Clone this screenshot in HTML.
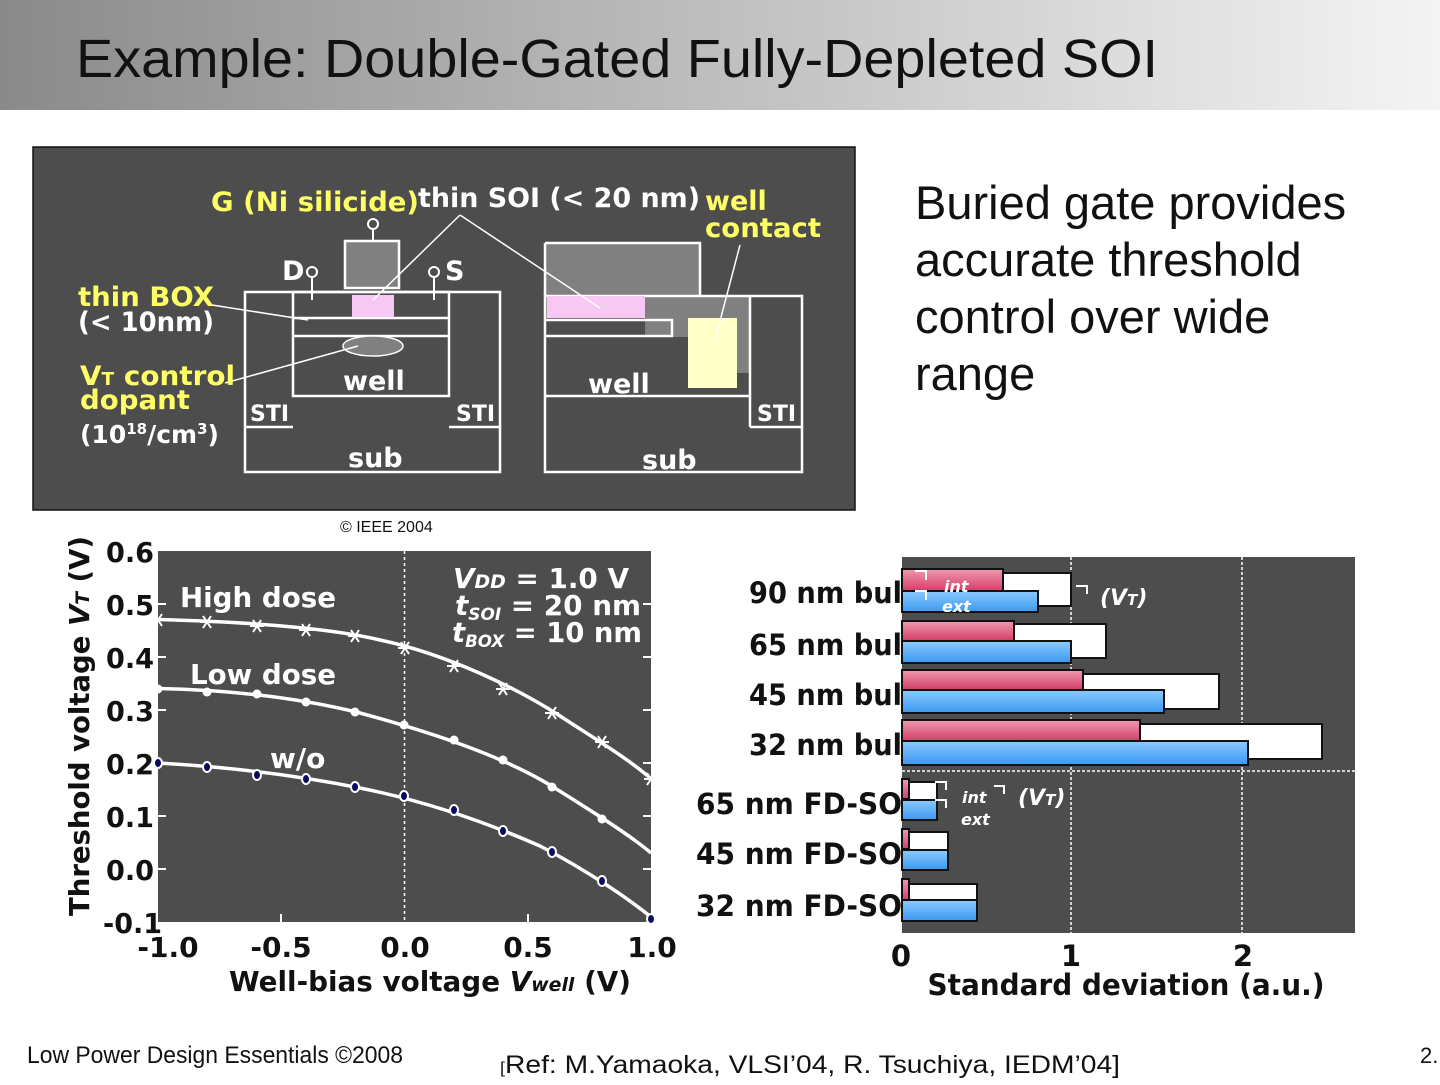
<!DOCTYPE html>
<html><head><meta charset="utf-8"><style>
body{margin:0;width:1440px;height:1080px;background:#fff;overflow:hidden;font-family:"Liberation Sans",sans-serif}
</style></head><body>
<svg width="1440" height="1080" xmlns="http://www.w3.org/2000/svg" font-family="DejaVu Sans, sans-serif">
<defs>
<linearGradient id="tb" x1="0" x2="1"><stop offset="0" stop-color="#8a8a8a"/><stop offset="1" stop-color="#f4f4f4"/></linearGradient>
<linearGradient id="pk" x1="0" y1="0" x2="0" y2="1"><stop offset="0" stop-color="#f09ab0"/><stop offset="1" stop-color="#d43d68"/></linearGradient>
<linearGradient id="bl" x1="0" y1="0" x2="0" y2="1"><stop offset="0" stop-color="#8ccaff"/><stop offset="1" stop-color="#3a98f0"/></linearGradient>
</defs>
<rect x="0" y="0" width="1440" height="110" fill="url(#tb)"/>
<text x="76" y="77" font-family="Liberation Sans" font-size="54" fill="#111" textLength="1082" lengthAdjust="spacingAndGlyphs">Example: Double-Gated Fully-Depleted SOI</text>

<!-- diagram -->
<rect x="33" y="147" width="822" height="363" fill="#4d4d4d" stroke="#111" stroke-width="1.5"/>
<g stroke="#fff" stroke-width="2.5" fill="none">
<rect x="245" y="292" width="255" height="180"/>
<rect x="293" y="292" width="156" height="104"/>
<line x1="245" y1="427" x2="293" y2="427"/><line x1="449" y1="427" x2="500" y2="427"/>
<line x1="293" y1="318" x2="449" y2="318"/><line x1="293" y1="336" x2="449" y2="336"/>
</g>
<rect x="345" y="241" width="54" height="47" fill="#808080" stroke="#fff" stroke-width="2.5"/>
<rect x="352" y="295" width="42" height="22" fill="#f8c8f4"/>
<ellipse cx="373" cy="346" rx="30" ry="10" fill="#808080" stroke="#fff" stroke-width="1.5"/>
<g stroke="#fff" stroke-width="2" fill="none">
<circle cx="373" cy="224" r="5"/><line x1="373" y1="229" x2="373" y2="241"/>
<circle cx="312" cy="272" r="5"/><line x1="312" y1="277" x2="312" y2="300"/>
<circle cx="434" cy="272" r="5"/><line x1="434" y1="277" x2="434" y2="300"/>
</g>
<polygon points="545,243 700,243 700,296 750,296 750,373 688,373 688,337 645,337 645,318 545,318" fill="#808080"/>
<g stroke="#fff" stroke-width="2.5" fill="none">
<rect x="545" y="296" width="257" height="176"/>
<polyline points="545,243 700,243 700,296"/>
<line x1="545" y1="243" x2="545" y2="296"/>
<line x1="750" y1="296" x2="750" y2="427"/><line x1="750" y1="427" x2="802" y2="427"/>
<line x1="545" y1="396" x2="750" y2="396"/>
<polyline points="545,320 672,320 672,336 545,336"/>
</g>
<rect x="547" y="296" width="98" height="22" fill="#f8c8f4"/>
<rect x="688" y="318" width="49" height="70" fill="#ffffc8"/>
<g stroke="#fff" stroke-width="1.5">
<line x1="460" y1="215" x2="373" y2="300"/><line x1="460" y1="215" x2="600" y2="308"/>
<line x1="212" y1="305" x2="308" y2="320"/><line x1="225" y1="383" x2="358" y2="346"/>
<line x1="740" y1="245" x2="715" y2="340"/>
</g>
<g font-weight="bold" font-size="27" fill="#ffff66">
<text x="211" y="211" textLength="208" lengthAdjust="spacingAndGlyphs">G (Ni silicide)</text>
<text x="705" y="210">well</text><text x="705" y="237" textLength="116" lengthAdjust="spacingAndGlyphs">contact</text>
<text x="78" y="306" textLength="136" lengthAdjust="spacingAndGlyphs">thin BOX</text>
<text x="80" y="385" textLength="155" lengthAdjust="spacingAndGlyphs">V<tspan font-size="18">T</tspan> control</text>
<text x="80" y="409" textLength="110" lengthAdjust="spacingAndGlyphs">dopant</text>
</g>
<g font-weight="bold" font-size="27" fill="#fff">
<text x="418" y="207" textLength="282" lengthAdjust="spacingAndGlyphs">thin SOI (&lt; 20 nm)</text>
<text x="78" y="331" textLength="136" lengthAdjust="spacingAndGlyphs">(&lt; 10nm)</text>
<text x="80" y="443" font-size="25">(10<tspan font-size="15" dy="-9">18</tspan><tspan dy="9">/cm</tspan><tspan font-size="15" dy="-9">3</tspan><tspan dy="9">)</tspan></text>
<text x="282" y="280">D</text><text x="445" y="280">S</text>
<text x="343" y="390">well</text><text x="588" y="393">well</text>
<text x="348" y="467">sub</text><text x="642" y="469">sub</text>
<text x="250" y="421" font-size="22">STI</text><text x="456" y="421" font-size="22">STI</text><text x="757" y="421" font-size="22">STI</text>
</g>
<text x="340" y="532" font-family="Liberation Sans" font-size="16" fill="#111">© IEEE 2004</text>

<g font-family="Liberation Sans" font-size="47" fill="#111">
<text x="915" y="219">Buried gate provides</text>
<text x="915" y="276">accurate threshold</text>
<text x="915" y="333">control over wide</text>
<text x="915" y="390">range</text>
</g>

<!-- left chart -->
<rect x="158" y="551" width="493" height="371" fill="#4d4d4d"/>
<line x1="404.5" y1="551" x2="404.5" y2="922" stroke="#fff" stroke-width="1.5" stroke-dasharray="3,3"/>
<g stroke="#fff" stroke-width="2">
<line x1="158" y1="604" x2="166" y2="604"/><line x1="158" y1="657" x2="166" y2="657"/><line x1="158" y1="710" x2="166" y2="710"/><line x1="158" y1="763" x2="166" y2="763"/><line x1="158" y1="816" x2="166" y2="816"/><line x1="158" y1="869" x2="166" y2="869"/>
<line x1="651" y1="604" x2="643" y2="604"/><line x1="651" y1="657" x2="643" y2="657"/><line x1="651" y1="710" x2="643" y2="710"/><line x1="651" y1="763" x2="643" y2="763"/><line x1="651" y1="816" x2="643" y2="816"/><line x1="651" y1="869" x2="643" y2="869"/>
<line x1="281" y1="922" x2="281" y2="914"/><line x1="528" y1="922" x2="528" y2="914"/>
</g>
<g fill="none" stroke="#fff" stroke-width="3.5">
<path d="M158,619.5 C250,622 330,628 380,640 C450,655 520,690 560,716 C600,742 630,760 651,778.9"/>
<path d="M158,688.5 C230,690 300,698 360,713 C430,732 500,755 550,785 C590,810 630,835 651,853"/>
<path d="M158,763 C230,767 300,776 360,788 C430,802 490,824 540,846 C590,872 630,900 651,917"/>
</g>
<g stroke="#fff" stroke-width="2" fill="none">
<path d="M151,620 h14 m-11,-6 l8,12 m-8,0 l8,-12"/>
<path d="M200,622 h14 m-11,-6 l8,12 m-8,0 l8,-12"/>
<path d="M250,626 h14 m-11,-6 l8,12 m-8,0 l8,-12"/>
<path d="M299,630 h14 m-11,-6 l8,12 m-8,0 l8,-12"/>
<path d="M348,636 h14 m-11,-6 l8,12 m-8,0 l8,-12"/>
<path d="M398,648 h14 m-11,-6 l8,12 m-8,0 l8,-12"/>
<path d="M447,666 h14 m-11,-6 l8,12 m-8,0 l8,-12"/>
<path d="M496,689 h14 m-11,-6 l8,12 m-8,0 l8,-12"/>
<path d="M545,713 h14 m-11,-6 l8,12 m-8,0 l8,-12"/>
<path d="M595,742 h14 m-11,-6 l8,12 m-8,0 l8,-12"/>
<path d="M644,779 h14 m-11,-6 l8,12 m-8,0 l8,-12"/>
</g>
<g fill="#fff"><circle cx="207" cy="692" r="4.5"/><circle cx="257" cy="694" r="4.5"/><circle cx="306" cy="702" r="4.5"/><circle cx="355" cy="712" r="4.5"/><circle cx="404" cy="725" r="4.5"/><circle cx="454" cy="740" r="4.5"/><circle cx="503" cy="760" r="4.5"/><circle cx="552" cy="787" r="4.5"/><circle cx="602" cy="819" r="4.5"/><circle cx="158" cy="689" r="4.5"/></g>
<g fill="#0a0a60" stroke="#fff" stroke-width="2">
<ellipse cx="158" cy="763" rx="4" ry="5"/><ellipse cx="207" cy="767" rx="4" ry="5"/><ellipse cx="257" cy="775" rx="4" ry="5"/><ellipse cx="306" cy="779" rx="4" ry="5"/><ellipse cx="355" cy="787" rx="4" ry="5"/><ellipse cx="404" cy="796" rx="4" ry="5"/><ellipse cx="454" cy="810" rx="4" ry="5"/><ellipse cx="503" cy="831" rx="4" ry="5"/><ellipse cx="552" cy="852" rx="4" ry="5"/><ellipse cx="602" cy="881" rx="4" ry="5"/><ellipse cx="651" cy="919" rx="4" ry="5"/>
</g>
<g font-weight="bold" font-size="28" fill="#fff">
<text x="180" y="607" textLength="156" lengthAdjust="spacingAndGlyphs">High dose</text><text x="190" y="684" textLength="146" lengthAdjust="spacingAndGlyphs">Low dose</text><text x="270" y="768">w/o</text>
<text x="453" y="588" font-style="italic" textLength="176" lengthAdjust="spacingAndGlyphs">V<tspan font-size="19">DD</tspan><tspan font-style="normal"> = 1.0 V</tspan></text>
<text x="455" y="615" font-style="italic" textLength="186" lengthAdjust="spacingAndGlyphs">t<tspan font-size="17" dy="5">SOI</tspan><tspan font-style="normal" dy="-5"> = 20 nm</tspan></text>
<text x="452" y="642" font-style="italic" textLength="190" lengthAdjust="spacingAndGlyphs">t<tspan font-size="17" dy="5">BOX</tspan><tspan font-style="normal" dy="-5"> = 10 nm</tspan></text>
</g>
<g font-weight="bold" font-size="28" fill="#111">
<text x="106" y="562" textLength="48" lengthAdjust="spacingAndGlyphs">0.6</text><text x="106" y="615" textLength="48" lengthAdjust="spacingAndGlyphs">0.5</text><text x="106" y="668" textLength="48" lengthAdjust="spacingAndGlyphs">0.4</text><text x="106" y="721" textLength="48" lengthAdjust="spacingAndGlyphs">0.3</text><text x="106" y="774" textLength="48" lengthAdjust="spacingAndGlyphs">0.2</text><text x="106" y="827" textLength="48" lengthAdjust="spacingAndGlyphs">0.1</text><text x="106" y="880" textLength="48" lengthAdjust="spacingAndGlyphs">0.0</text><text x="103" y="933" textLength="59" lengthAdjust="spacingAndGlyphs">-0.1</text>
</g>
<g font-weight="bold" font-size="28" fill="#111" text-anchor="middle">
<text x="168" y="957">-1.0</text><text x="281" y="957">-0.5</text><text x="405" y="957">0.0</text><text x="528" y="957">0.5</text><text x="652" y="957">1.0</text>
<text x="430" y="991" textLength="402" lengthAdjust="spacingAndGlyphs">Well-bias voltage <tspan font-style="italic">V<tspan font-size="19">well</tspan></tspan> (V)</text>
<text transform="translate(89,726) rotate(-90)" textLength="380" lengthAdjust="spacingAndGlyphs">Threshold voltage <tspan font-style="italic">V<tspan font-size="19">T</tspan></tspan> (V)</text>
</g>

<!-- right chart -->
<rect x="902" y="557" width="453" height="376" fill="#4d4d4d"/>
<g stroke="#fff" stroke-width="1.5" stroke-dasharray="3,2">
<line x1="1071" y1="557" x2="1071" y2="933"/><line x1="1242" y1="557" x2="1242" y2="933"/><line x1="902" y1="771" x2="1355" y2="771"/>
</g>
<g stroke="#111" stroke-width="2">
<rect x="902" y="573" width="169" height="33" fill="#fff"/>
<rect x="902" y="569" width="101" height="22" fill="url(#pk)"/><rect x="902" y="591" width="136" height="21" fill="url(#bl)"/>
<rect x="902" y="624" width="204" height="34" fill="#fff"/>
<rect x="902" y="621" width="112" height="20" fill="url(#pk)"/><rect x="902" y="641" width="169" height="22" fill="url(#bl)"/>
<rect x="902" y="674" width="317" height="35" fill="#fff"/>
<rect x="902" y="670" width="181" height="20" fill="url(#pk)"/><rect x="902" y="690" width="262" height="23" fill="url(#bl)"/>
<rect x="902" y="724" width="420" height="35" fill="#fff"/>
<rect x="902" y="720" width="238" height="21" fill="url(#pk)"/><rect x="902" y="741" width="346" height="24" fill="url(#bl)"/>
<rect x="902" y="782" width="35" height="18" fill="#fff"/>
<rect x="902" y="779" width="7" height="20" fill="url(#pk)"/><rect x="902" y="800" width="35" height="20" fill="url(#bl)"/>
<rect x="902" y="832" width="46" height="18" fill="#fff"/>
<rect x="902" y="829" width="7" height="20" fill="url(#pk)"/><rect x="902" y="850" width="46" height="20" fill="url(#bl)"/>
<rect x="902" y="884" width="75" height="16" fill="#fff"/>
<rect x="902" y="879" width="7" height="21" fill="url(#pk)"/><rect x="902" y="900" width="75" height="21" fill="url(#bl)"/>
</g>
<g stroke="#fff" stroke-width="2" fill="none">
<polyline points="915,571 926,571 926,580"/><polyline points="915,591 926,591 926,600"/><polyline points="1076,586 1087,586 1087,594"/>
<polyline points="935,782 946,782 946,790"/><polyline points="935,800 946,800 946,808"/><polyline points="994,786 1004,786 1004,794"/>
</g>
<g fill="#fff" font-weight="bold" font-style="italic" font-size="16">
<text x="944" y="592">int</text><text x="942" y="612">ext</text><text x="962" y="803">int</text><text x="961" y="825">ext</text>
<text x="1100" y="605" font-size="22">(V<tspan font-size="15">T</tspan>)</text><text x="1018" y="805" font-size="22">(V<tspan font-size="15">T</tspan>)</text>
</g>
<g font-weight="bold" font-size="29" fill="#111">
<text x="749" y="603" textLength="153" lengthAdjust="spacingAndGlyphs">90 nm bul</text><text x="749" y="655" textLength="153" lengthAdjust="spacingAndGlyphs">65 nm bul</text><text x="749" y="705" textLength="153" lengthAdjust="spacingAndGlyphs">45 nm bul</text><text x="749" y="755" textLength="153" lengthAdjust="spacingAndGlyphs">32 nm bul</text>
<text x="696" y="814" textLength="206" lengthAdjust="spacingAndGlyphs">65 nm FD-SO</text><text x="696" y="864" textLength="206" lengthAdjust="spacingAndGlyphs">45 nm FD-SO</text><text x="696" y="916" textLength="206" lengthAdjust="spacingAndGlyphs">32 nm FD-SO</text>
</g>
<g font-weight="bold" font-size="29" fill="#111" text-anchor="middle">
<text x="901" y="966">0</text><text x="1071" y="966">1</text><text x="1243" y="966">2</text>
<text x="1126" y="995" textLength="397" lengthAdjust="spacingAndGlyphs">Standard deviation (a.u.)</text>
</g>

<text x="27" y="1063" font-family="Liberation Sans" font-size="24" fill="#111" textLength="376" lengthAdjust="spacingAndGlyphs">Low Power Design Essentials ©2008</text>
<text x="500" y="1073" font-family="Liberation Sans" font-size="25" fill="#111" textLength="620" lengthAdjust="spacingAndGlyphs"><tspan font-size="16">[</tspan>Ref: M.Yamaoka, VLSI’04, R. Tsuchiya, IEDM’04]</text>
<text x="1420" y="1063" font-family="Liberation Sans" font-size="22" fill="#111">2.</text>
</svg>
</body></html>
